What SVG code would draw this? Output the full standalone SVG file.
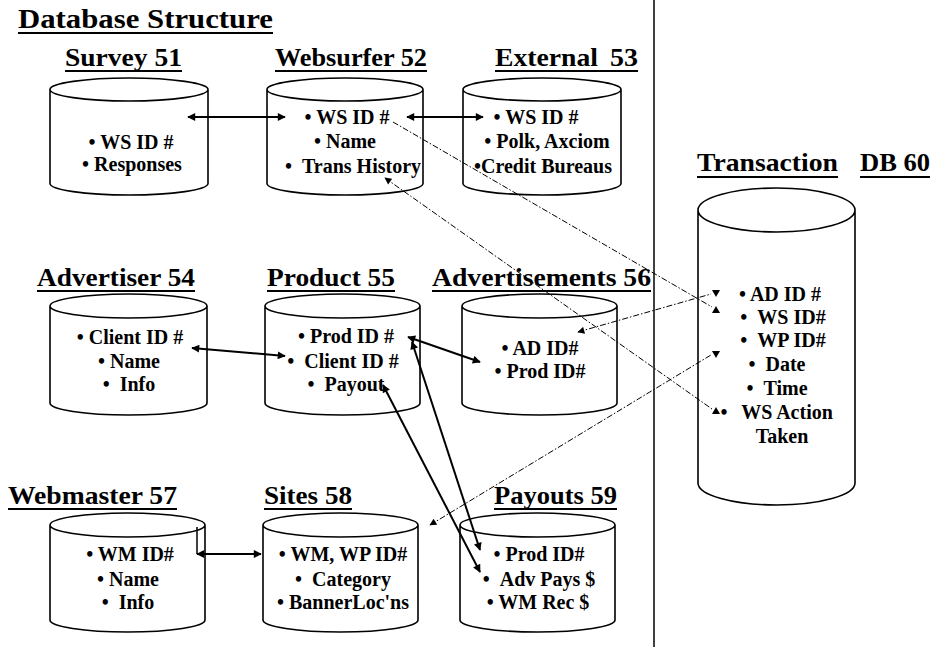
<svg xmlns="http://www.w3.org/2000/svg" width="937" height="647" viewBox="0 0 937 647">
  <style>
    .bg { fill: #ffffff; }
    .cyl { fill: #ffffff; stroke: #000000; stroke-width: 1.6; }
    .title { font-family: "Liberation Serif", "Times New Roman", serif; font-weight: bold; font-size: 26px; fill: #000000; }
    .main { font-size: 28px; }
    .ul { stroke: #000000; stroke-width: 2; }
    .item { font-family: "Liberation Serif", "Times New Roman", serif; font-weight: bold; font-size: 20px; fill: #000000; text-anchor: middle; }
    .solid { fill: none; stroke: #000000; stroke-width: 2; marker-start: url(#head); marker-end: url(#head); }
    .dash { fill: none; stroke: #000000; stroke-width: 1; stroke-dasharray: 6 2 1.5 2; }
    .divider { stroke: #000000; stroke-width: 1.5; }
  </style>
  <defs>
    <marker id="head" viewBox="0 0 10 10" refX="9" refY="5" markerWidth="10" markerHeight="8" markerUnits="userSpaceOnUse" orient="auto-start-reverse">
      <path d="M0,0 L10,5 L0,10 z" fill="#000000"/>
    </marker>
    <marker id="smallhead" viewBox="0 0 10 10" refX="9" refY="5" markerWidth="8" markerHeight="7" markerUnits="userSpaceOnUse" orient="auto-start-reverse">
      <path d="M0,0 L10,5 L0,10 z" fill="#000000"/>
    </marker>
    <path id="triDown" d="M-4,-3 L4,-3 L0,4 z" fill="#000000"/>
    <path id="triUp" d="M-4,3 L4,3 L0,-4 z" fill="#000000"/>
  </defs>

  <rect class="bg" x="0" y="0" width="937" height="647"/>

  <!-- page heading and divider -->
  <g id="heading">
    <text class="title main" x="18" y="28" textLength="255" lengthAdjust="spacingAndGlyphs">Database Structure</text>
    <line class="ul" x1="18" y1="33" x2="273" y2="33"/>
  </g>
  <line class="divider" x1="654" y1="0" x2="654" y2="647"/>

  <!-- row 1 -->
  <g id="survey51">
    <text class="title" x="65" y="66" textLength="117" lengthAdjust="spacingAndGlyphs">Survey 51</text>
    <line class="ul" x1="65" y1="71" x2="182" y2="71"/>
    <path class="cyl" d="M50,89.5 A79,11.5 0 0 1 208,89.5 A79,11.5 0 0 1 50,89.5 M50,89.5 L50,183.5 A79,11.5 0 0 0 208,183.5 L208,89.5"/>
    <text class="item" x="131" y="149">• WS ID #</text>
    <text class="item" x="132" y="171">• Responses</text>
  </g>

  <g id="websurfer52">
    <text class="title" x="275" y="66" textLength="152" lengthAdjust="spacingAndGlyphs">Websurfer 52</text>
    <line class="ul" x1="275" y1="71" x2="427" y2="71"/>
    <path class="cyl" d="M267,89.5 A78,11.5 0 0 1 423,89.5 A78,11.5 0 0 1 267,89.5 M267,89.5 L267,183.5 A78,11.5 0 0 0 423,183.5 L423,89.5"/>
    <text class="item" x="347" y="124">• WS ID #</text>
    <text class="item" x="345" y="148">• Name</text>
    <text class="item" x="353" y="173">• &#160;Trans History</text>
  </g>

  <g id="external53">
    <text class="title" x="495" y="66" textLength="103" lengthAdjust="spacingAndGlyphs">External</text>
    <text class="title" x="610" y="66" textLength="28" lengthAdjust="spacingAndGlyphs">53</text>
    <line class="ul" x1="495" y1="71" x2="638" y2="71"/>
    <path class="cyl" d="M463,89.5 A79,11.5 0 0 1 621,89.5 A79,11.5 0 0 1 463,89.5 M463,89.5 L463,183.5 A79,11.5 0 0 0 621,183.5 L621,89.5"/>
    <text class="item" x="536" y="124">• WS ID #</text>
    <text class="item" x="547" y="148">• Polk, Axciom</text>
    <text class="item" x="543" y="173">•Credit Bureaus</text>
  </g>

  <!-- transaction database -->
  <g id="transaction60">
    <text class="title" x="697" y="171" textLength="141" lengthAdjust="spacingAndGlyphs">Transaction</text>
    <line class="ul" x1="697" y1="177" x2="838" y2="177"/>
    <text class="title" x="860" y="171" textLength="70" lengthAdjust="spacingAndGlyphs">DB 60</text>
    <line class="ul" x1="860" y1="177" x2="930" y2="177"/>
    <path class="cyl" d="M698,210 A78.5,22 0 0 1 855,210 A78.5,22 0 0 1 698,210 M698,210 L698,483 A78.5,22 0 0 0 855,483 L855,210"/>
    <text class="item" x="780" y="301">• AD ID #</text>
    <text class="item" x="783" y="324">• &#160;WS ID#</text>
    <text class="item" x="783" y="347">• &#160;WP ID#</text>
    <text class="item" x="777" y="371">• &#160;Date</text>
    <text class="item" x="777" y="395">• &#160;Time</text>
    <text class="item" x="724" y="419">•</text>
    <text class="item" x="787" y="419">WS Action</text>
    <text class="item" x="782" y="443">Taken</text>
  </g>

  <!-- row 2 -->
  <g id="advertiser54">
    <text class="title" x="37" y="286" textLength="158" lengthAdjust="spacingAndGlyphs">Advertiser 54</text>
    <line class="ul" x1="37" y1="291" x2="195" y2="291"/>
    <path class="cyl" d="M50,306 A78.5,12 0 0 1 207,306 A78.5,12 0 0 1 50,306 M50,306 L50,403 A78.5,12 0 0 0 207,403 L207,306"/>
    <text class="item" x="130" y="344">• Client ID #</text>
    <text class="item" x="129" y="368">• Name</text>
    <text class="item" x="129" y="391">• &#160;Info</text>
  </g>

  <g id="product55">
    <text class="title" x="267" y="286" textLength="128" lengthAdjust="spacingAndGlyphs">Product 55</text>
    <line class="ul" x1="267" y1="291" x2="395" y2="291"/>
    <path class="cyl" d="M265,306 A77.5,12 0 0 1 420,306 A77.5,12 0 0 1 265,306 M265,306 L265,403 A77.5,12 0 0 0 420,403 L420,306"/>
    <text class="item" x="346" y="343">• Prod ID #</text>
    <text class="item" x="343" y="368">• &#160;Client ID #</text>
    <text class="item" x="346" y="391">• &#160;Payout</text>
  </g>

  <g id="advertisements56">
    <text class="title" x="432" y="286" textLength="219" lengthAdjust="spacingAndGlyphs">Advertisements 56</text>
    <line class="ul" x1="432" y1="291" x2="651" y2="291"/>
    <path class="cyl" d="M462,306 A77.5,12 0 0 1 617,306 A77.5,12 0 0 1 462,306 M462,306 L462,403 A77.5,12 0 0 0 617,403 L617,306"/>
    <text class="item" x="540" y="355">• AD ID#</text>
    <text class="item" x="540" y="378">• Prod ID#</text>
  </g>

  <!-- row 3 -->
  <g id="webmaster57">
    <text class="title" x="8" y="504" textLength="169" lengthAdjust="spacingAndGlyphs">Webmaster 57</text>
    <line class="ul" x1="8" y1="509" x2="177" y2="509"/>
    <path class="cyl" d="M50,525 A77.5,12 0 0 1 205,525 A77.5,12 0 0 1 50,525 M50,525 L50,620 A77.5,12 0 0 0 205,620 L205,525"/>
    <text class="item" x="130" y="561">• WM ID#</text>
    <text class="item" x="128" y="586">• Name</text>
    <text class="item" x="128" y="609">• &#160;Info</text>
  </g>

  <g id="sites58">
    <text class="title" x="264" y="504" textLength="88" lengthAdjust="spacingAndGlyphs">Sites 58</text>
    <line class="ul" x1="264" y1="509" x2="352" y2="509"/>
    <path class="cyl" d="M263,525 A77.5,12 0 0 1 418,525 A77.5,12 0 0 1 263,525 M263,525 L263,620 A77.5,12 0 0 0 418,620 L418,525"/>
    <text class="item" x="343" y="561">• WM, WP ID#</text>
    <text class="item" x="343" y="586">• &#160;Category</text>
    <text class="item" x="343" y="609">• BannerLoc'ns</text>
  </g>

  <g id="payouts59">
    <text class="title" x="494" y="504" textLength="123" lengthAdjust="spacingAndGlyphs">Payouts 59</text>
    <line class="ul" x1="494" y1="509" x2="617" y2="509"/>
    <path class="cyl" d="M460,525 A77.5,12 0 0 1 615,525 A77.5,12 0 0 1 460,525 M460,525 L460,620 A77.5,12 0 0 0 615,620 L615,525"/>
    <text class="item" x="539" y="561">• Prod ID#</text>
    <text class="item" x="539" y="586">• &#160;Adv Pays $</text>
    <text class="item" x="538" y="609">• WM Rec $</text>
  </g>

  <!-- connectors -->
  <g id="connectors">
    <line class="solid" x1="188" y1="117" x2="285" y2="117"/>
    <line class="solid" x1="407" y1="117" x2="483" y2="117"/>
    <line class="solid" x1="192" y1="348" x2="285" y2="356"/>
    <line class="solid" x1="408" y1="337" x2="480" y2="362"/>
    <line class="solid" x1="383" y1="385" x2="480" y2="572"/>
    <line class="solid" x1="412" y1="342" x2="480" y2="550"/>
    <line class="solid" x1="197" y1="554" x2="261" y2="554"/>
    <line stroke="#000000" stroke-width="1.5" x1="197" y1="527" x2="197" y2="554"/>

    <!-- dashed links into the transaction database -->
    <line class="dash" x1="393" y1="122" x2="712" y2="307"/>
    <line class="dash" x1="385" y1="178" x2="712" y2="409" marker-start="url(#smallhead)"/>
    <line class="dash" x1="578" y1="332" x2="711" y2="294" marker-start="url(#smallhead)"/>
    <line class="dash" x1="430" y1="525" x2="711" y2="355" marker-start="url(#smallhead)"/>
    <use href="#triDown" x="716" y="293"/>
    <use href="#triUp" x="716" y="310"/>
    <use href="#triDown" x="716" y="354"/>
    <use href="#triUp" x="716" y="411"/>
  </g>
</svg>
